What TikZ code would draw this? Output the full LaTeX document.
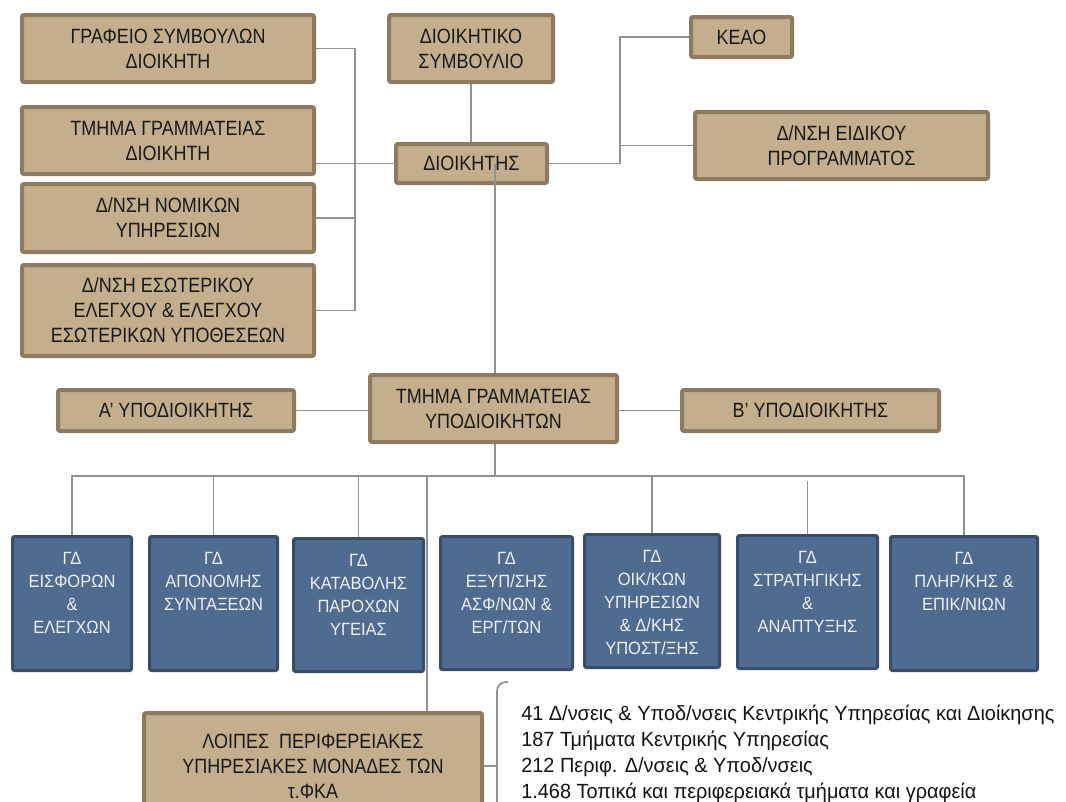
\documentclass[tikz,border=0pt]{standalone}
\usepackage{fontspec}
\setmainfont{Liberation Sans}
\newfontfamily\boxfont[FakeStretch=0.87]{Liberation Sans}
\newfontfamily\gdfont[FakeStretch=0.93]{Liberation Sans}
\newfontfamily\statfont[FakeStretch=0.97]{Liberation Sans}
\usetikzlibrary{calc}

\definecolor{tanfill}{RGB}{196,174,141}
\definecolor{tanedge}{RGB}{140,123,97}
\definecolor{bluefill}{RGB}{79,107,144}
\definecolor{blueedge}{RGB}{56,77,106}
\definecolor{linkgray}{RGB}{145,145,145}
\definecolor{gdtext}{RGB}{238,240,244}

\tikzset{
  sz/.style 2 args={minimum width={#1*0.75pt}, minimum height={#2*0.75pt}},
  tanbox/.style={draw=tanedge, fill=tanfill, line width=3pt, rounded corners=1.5pt,
    inner sep=0pt, align=center, text=black!90,
    font={\boxfont\fontsize{15.5pt}{18.75pt}\selectfont}},
  gdbox/.style={draw=blueedge, fill=bluefill, line width=2.25pt, rounded corners=1.5pt,
    inner sep=0pt},
  gdlabel/.style={anchor=north, yshift=-12.5pt, inner sep=0pt, align=center,
    text=gdtext, font={\gdfont\fontsize{13.3pt}{17.25pt}\selectfont}},
  link/.style={draw=linkgray, line width=1.3pt}
}

\begin{document}
\begin{tikzpicture}[x=0.75pt, y=-0.75pt]
\useasboundingbox (0,0) rectangle (1066,801);
\clip (0,0) rectangle (1066,801);
\fill[white] (0,0) rectangle (1066,801);

% --- top level: governor and staff units
\node[tanbox, sz={292}{67}] (grafeio)  at (168,48.5)  {ΓΡΑΦΕΙΟ ΣΥΜΒΟΥΛΩΝ\\ΔΙΟΙΚΗΤΗ};
\node[tanbox, sz={292}{67}] (tmgd)     at (168,140.5) {ΤΜΗΜΑ ΓΡΑΜΜΑΤΕΙΑΣ\\ΔΙΟΙΚΗΤΗ};
\node[tanbox, sz={292}{68}] (nomikon)  at (168,218)   {Δ/ΝΣΗ ΝΟΜΙΚΩΝ\\ΥΠΗΡΕΣΙΩΝ};
\node[tanbox, sz={292}{91}] (esot)     at (168,310.5) {Δ/ΝΣΗ ΕΣΩΤΕΡΙΚΟΥ\\ΕΛΕΓΧΟΥ \& ΕΛΕΓΧΟΥ\\ΕΣΩΤΕΡΙΚΩΝ ΥΠΟΘΕΣΕΩΝ};
\node[tanbox, sz={164}{67}] (dsymb)    at (471,48.5)  {ΔΙΟΙΚΗΤΙΚΟ\\ΣΥΜΒΟΥΛΙΟ};
\node[tanbox, sz={151}{39}] (dioik)    at (471.5,163.5) {ΔΙΟΙΚΗΤΗΣ};
\node[tanbox, sz={101}{40}] (keao)     at (741.5,37)  {ΚΕΑΟ};
\node[tanbox, sz={293}{67}] (eidikou)  at (841.5,145.5) {Δ/ΝΣΗ ΕΙΔΙΚΟΥ\\ΠΡΟΓΡΑΜΜΑΤΟΣ};

% --- deputy governors
\node[tanbox, sz={236}{41}] (ypa)  at (176,410.5)   {Α’ ΥΠΟΔΙΟΙΚΗΤΗΣ};
\node[tanbox, sz={247}{67}] (tmyp) at (493.5,408.5) {ΤΜΗΜΑ ΓΡΑΜΜΑΤΕΙΑΣ\\ΥΠΟΔΙΟΙΚΗΤΩΝ};
\node[tanbox, sz={257}{41}] (ypb)  at (810.5,410.5) {Β’ ΥΠΟΔΙΟΙΚΗΤΗΣ};

% --- general directorates
\node[gdbox, sz={119}{134}, label={[gdlabel]north:{ΓΔ\\ΕΙΣΦΟΡΩΝ\\\&\\ΕΛΕΓΧΩΝ}}] (gd1) at (72,603.5) {};
\node[gdbox, sz={128}{134}, label={[gdlabel]north:{ΓΔ\\ΑΠΟΝΟΜΗΣ\\ΣΥΝΤΑΞΕΩΝ}}] (gd2) at (213.5,603.5) {};
\node[gdbox, sz={130}{133}, label={[gdlabel]north:{ΓΔ\\ΚΑΤΑΒΟΛΗΣ\\ΠΑΡΟΧΩΝ\\ΥΓΕΙΑΣ}}] (gd3) at (358.5,605) {};
\node[gdbox, sz={132}{133}, label={[gdlabel]north:{ΓΔ\\ΕΞΥΠ/ΣΗΣ\\ΑΣΦ/ΝΩΝ \&\\ΕΡΓ/ΤΩΝ}}] (gd4) at (506.5,603) {};
\node[gdbox, sz={135}{133}, label={[gdlabel]north:{ΓΔ\\ΟΙΚ/ΚΩΝ\\ΥΠΗΡΕΣΙΩΝ\\\& Δ/ΚΗΣ\\ΥΠΟΣΤ/ΞΗΣ}}] (gd5) at (652,601) {};
\node[gdbox, sz={140}{133}, label={[gdlabel]north:{ΓΔ\\ΣΤΡΑΤΗΓΙΚΗΣ\\\&\\ΑΝΑΠΤΥΞΗΣ}}] (gd6) at (807.5,602) {};
\node[gdbox, sz={147}{134}, label={[gdlabel]north:{ΓΔ\\ΠΛΗΡ/ΚΗΣ \&\\ΕΠΙΚ/ΝΙΩΝ}}] (gd7) at (964,603.5) {};

% --- regional units and summary
\node[tanbox, sz={338}{106}] (loipes) at (313,766)
  {ΛΟΙΠΕΣ\ \ ΠΕΡΙΦΕΡΕΙΑΚΕΣ\\ΥΠΗΡΕΣΙΑΚΕΣ ΜΟΝΑΔΕΣ ΤΩΝ\\τ.ΦΚΑ};
\node[anchor=north west, inner sep=0pt, align=left, text=black!92,
      font={\statfont\fontsize{15.4pt}{19.5pt}\selectfont}] (stats) at (521,705)
  {41 Δ/νσεις \& Υποδ/νσεις Κεντρικής Υπηρεσίας και Διοίκησης\\
   187 Τμήματα Κεντρικής Υπηρεσίας\\
   212 Περιφ. Δ/νσεις \& Υποδ/νσεις\\
   1.468 Τοπικά και περιφερειακά τμήματα και γραφεία};

% --- bus positions
\coordinate (lbus) at (355,0);
\coordinate (rbus) at (620,0);
\coordinate (vx)   at (495,0);
\coordinate (gbus) at (0,476);
\coordinate (lx)   at (427,0);
\coordinate (brx)  at (497,0);

% --- governor's staff
\draw[link] (grafeio.east) -| (lbus |- esot.east) -- (esot.east);
\draw[link] (nomikon.east) -- (lbus |- nomikon.east);
\draw[link] (tmgd.east |- dioik.west) -- (dioik.west);
\draw[link] (dsymb.south) -- (dsymb.south |- dioik.north);
\draw[link] (dioik.east) -| (rbus |- keao.west) -- (keao.west);
\draw[link] (rbus |- eidikou.west) -- (eidikou.west);

% --- governor to deputies
\draw[link] (vx |- dioik.center) -- (vx |- tmyp.north);
\draw[link] (ypa.east) -- (ypa.east -| tmyp.west);
\draw[link] (ypb.west) -- (ypb.west -| tmyp.east);

% --- general directorates bus
\draw[link] (tmyp.south -| vx) -- (vx |- gbus);
\draw[link] (gd1.north) -- (gd1.north |- gbus) -- (gd7.north |- gbus) -- (gd7.north);
\draw[link] (gd2.north) -- (gd2.north |- gbus);
\draw[link] (gd3.north) -- (gd3.north |- gbus);
\draw[link] (gd5.north) -- (gd5.north |- gbus);
\draw[link] (gd6.north) -- ($(gd6.north |- gbus)+(0,5)$);
\draw[link] (lx |- gbus) -- (lx |- loipes.north);

% --- brace to the summary
\draw[link] (loipes.east) -- (brx |- loipes.east);
\draw[link] (508,682) .. controls (500,682) and (497,685) .. (497,693) -- (497,830);
\end{tikzpicture}
\end{document}
